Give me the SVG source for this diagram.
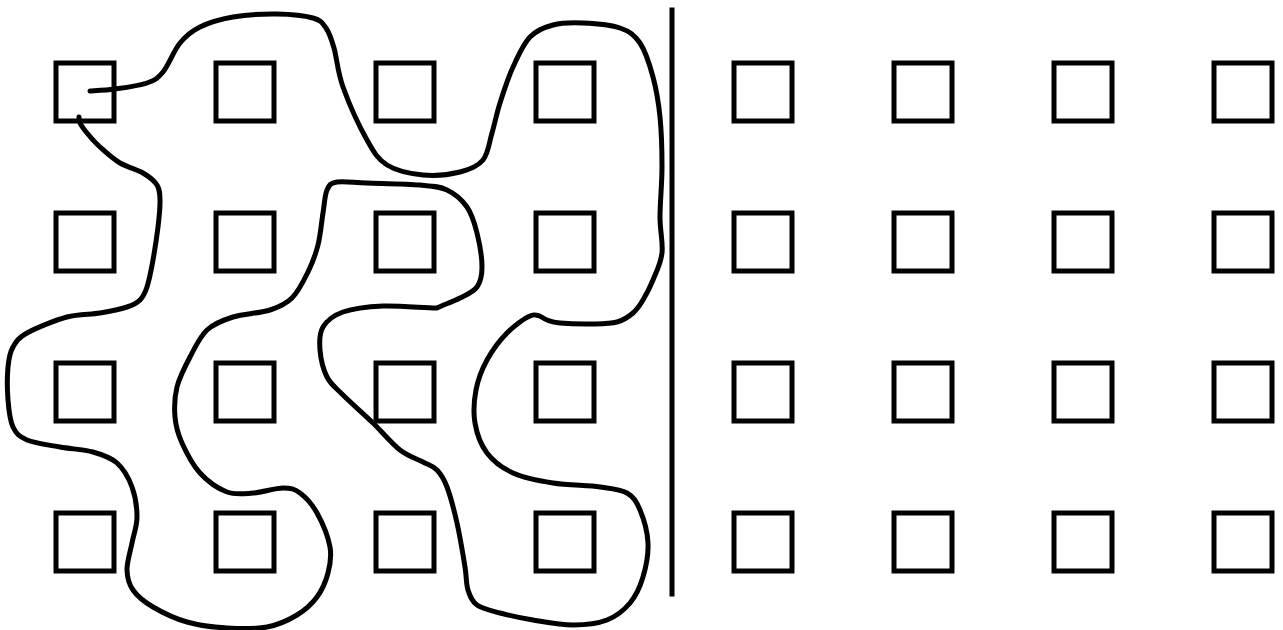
<svg xmlns="http://www.w3.org/2000/svg" width="1283" height="630" viewBox="0 0 1283 630">
<style>
.sq{fill:none;stroke:#000;stroke-width:5}
.curve{fill:none;stroke:#000;stroke-width:5;stroke-linecap:round;stroke-linejoin:round}
.divider{stroke:#000;stroke-width:5}
</style>
<rect width="1283" height="630" fill="#fff"/>
<g id="grid-left">
<g id="L-r1"><rect class="sq" x="56" y="63" width="58" height="58"/><rect class="sq" x="216" y="63" width="58" height="58"/><rect class="sq" x="376" y="63" width="58" height="58"/><rect class="sq" x="536" y="63" width="58" height="58"/></g>
<g id="L-r2"><rect class="sq" x="56" y="213" width="58" height="58"/><rect class="sq" x="216" y="213" width="58" height="58"/><rect class="sq" x="376" y="213" width="58" height="58"/><rect class="sq" x="536" y="213" width="58" height="58"/></g>
<g id="L-r3"><rect class="sq" x="56" y="363" width="58" height="58"/><rect class="sq" x="216" y="363" width="58" height="58"/><rect class="sq" x="376" y="363" width="58" height="58"/><rect class="sq" x="536" y="363" width="58" height="58"/></g>
<g id="L-r4"><rect class="sq" x="56" y="513" width="58" height="58"/><rect class="sq" x="216" y="513" width="58" height="58"/><rect class="sq" x="376" y="513" width="58" height="58"/><rect class="sq" x="536" y="513" width="58" height="58"/></g>
</g>
<g id="grid-right">
<g id="R-r1"><rect class="sq" x="734" y="63" width="58" height="58"/><rect class="sq" x="894" y="63" width="58" height="58"/><rect class="sq" x="1054" y="63" width="58" height="58"/><rect class="sq" x="1214" y="63" width="58" height="58"/></g>
<g id="R-r2"><rect class="sq" x="734" y="213" width="58" height="58"/><rect class="sq" x="894" y="213" width="58" height="58"/><rect class="sq" x="1054" y="213" width="58" height="58"/><rect class="sq" x="1214" y="213" width="58" height="58"/></g>
<g id="R-r3"><rect class="sq" x="734" y="363" width="58" height="58"/><rect class="sq" x="894" y="363" width="58" height="58"/><rect class="sq" x="1054" y="363" width="58" height="58"/><rect class="sq" x="1214" y="363" width="58" height="58"/></g>
<g id="R-r4"><rect class="sq" x="734" y="513" width="58" height="58"/><rect class="sq" x="894" y="513" width="58" height="58"/><rect class="sq" x="1054" y="513" width="58" height="58"/><rect class="sq" x="1214" y="513" width="58" height="58"/></g>
</g>
<g id="divider"><line class="divider" x1="672" y1="7.5" x2="672" y2="596.5"/></g>
<g id="connectors">
<path class="curve" d="M90 91 C94 90.7 105.5 90.3 115 89 S139 85.8 147 83 S157.5 78.7 163 72 S173.8 50.5 180 43 S191.2 31.3 200 27 S220.2 19.2 233 17 S263.7 13.8 277 14 S304.8 15.7 313 18 S322.5 23 326 28 S331.2 38.2 334 48 S337.5 71.7 343 87 S359.7 127 367 140 S377.7 159.2 387 165 S410.8 173.8 423 175 S450 174.5 460 172 S477.7 166.5 483 160 S489.2 142.5 492 133 S496.5 114 500 103 S508 78 513 67 S523.3 44 530 37 S544.2 27.3 553 25 S571.8 22.5 583 23 S610.5 24.7 620 28 S634.5 34.8 640 43 S649.7 64.7 653 77 S658.5 102 660 117 S662 150.3 662 167 S660 202.7 660 217 S663.2 242.5 662 253 S656.2 272.2 653 280 S646.3 294.5 643 300 S637.3 309.3 633 313 S623.7 320.2 617 322 S602.5 323.8 593 324 S567.7 323.7 560 323 S550.7 321.3 547 320 S541.5 316.2 538 315.5 S535.2 314 530 316 S514.2 325.7 507 333 S492.2 350.5 487 360 S478 379.5 476 390 S473.2 412.5 475 423 S480.7 444.7 487 453 S502 468 513 473 S538.5 480.7 553 483 S587.7 485.3 600 487 S620.3 489.2 627 493 S636.5 501.7 640 510 S647.5 531.8 648 543 S646 567 643 577 S636 595.8 630 603 S616.5 616.3 607 620 S585.3 625 573 625 S545.2 622 533 620 S509.3 615.5 500 613 S482.3 608.8 477 605 S470 596.3 468 590 S466.8 578.2 465 567 S460 536.3 457 523 S450.3 495.8 447 487 S441 474.2 437 470 S429.2 465.3 423 462 S408.3 456.5 400 450 S382.5 432.2 373 423 S350.7 402.7 343 395 S330.8 384.5 327 377 S320.7 358.3 320 350 S319.2 333.3 323 327 S333 315.5 343 312 S367.3 306.7 383 306 C398.7 305.3 430 308.5 437 308 C442 305.5 453.3 301.5 460 298 S473.3 292.2 477 287 S482 276 482 267 S479.5 243 477 233 S472 214.2 467 207 S454.8 193.7 447 190 S433.3 186.2 420 185 S380.8 183.5 367 183 S343.7 180.8 337 182 S329.3 184.8 327 190 S324.5 203.8 323 213 S320.5 235.2 318 245 S312.3 263.2 308 272 S298.3 291.7 292 298 S279.8 306.8 270 310 S243.5 313.7 233 317 S214.2 323.3 207 330 S195 347.5 190 357 S179.5 377 177 387 S174.2 407.7 175 417 S177.8 433.7 182 443 S192.5 464.8 200 473 S218.2 488.7 227 492 S243.7 493.7 253 493 S275.2 488 283 488 S294.3 488.8 300 493 S312 504 317 513 S328.2 537 330 547 S330.2 564.7 328 573 S322.2 590 317 597 S305.3 610 297 615 S278.7 624.8 267 627 S240.3 628.8 227 628 S199.3 625.5 187 622 S162 612.3 153 607 S137.3 596.2 133 590 S127.2 577.8 127 570 S130.3 551.8 132 543 S137 526.3 137 517 S135.3 496 132 487 S123.5 468.8 117 463 S102.5 454.7 93 452 S71 449 60 447 S34.8 443.3 27 440 S16.2 433.7 13 427 S8.8 410 8 400 S7.2 375.8 8 367 S9.8 352.7 13 347 S18 338 27 333 S54.8 320.3 67 317 S90 314.7 100 313 S120.3 309.2 127 307 S136.7 303.3 140 300 S144.8 293.7 147 287 S151.2 270 153 260 S156.8 237 158 227 S160.2 207 160 200 S159.8 189.5 157 185 S149.2 176.7 143 173 S127.2 167.3 120 163 S105.5 152 100 147 S90.3 137 87 133 S81.3 125.7 80 123 S79.2 118 79 117"/>
</g>
</svg>
